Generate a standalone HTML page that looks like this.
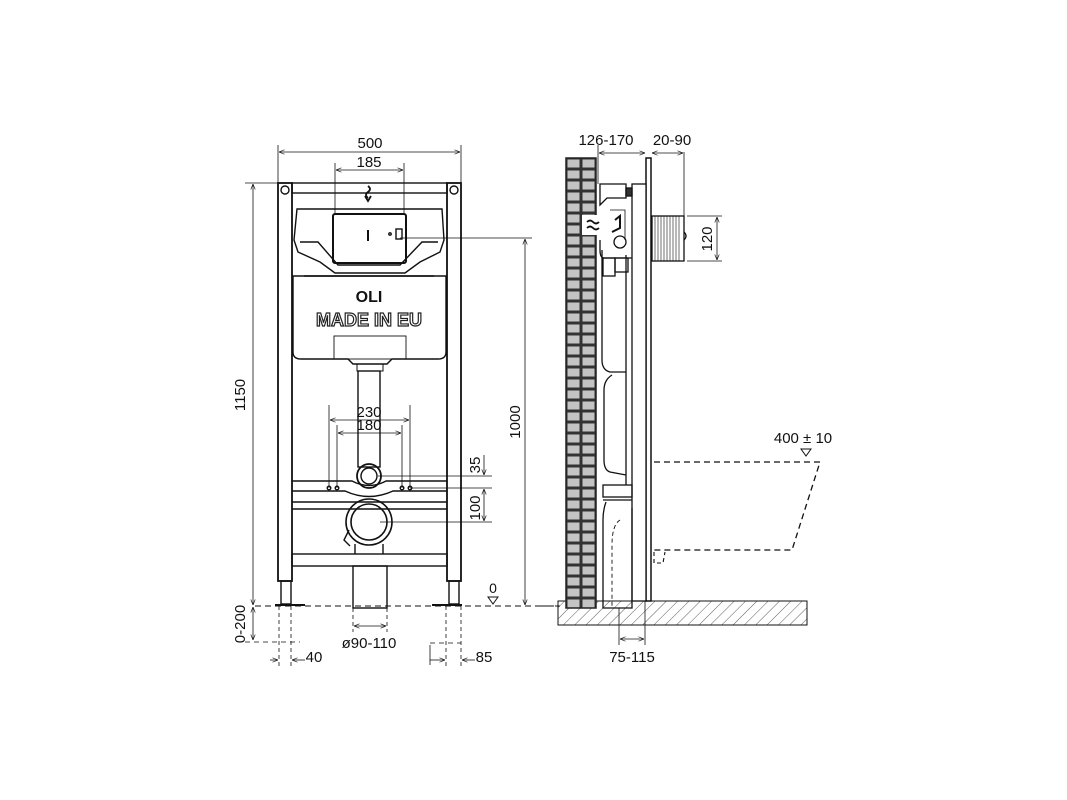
<!DOCTYPE html>
<html><head><meta charset="utf-8"><style>
html,body{margin:0;padding:0;background:#fff;}
svg{display:block;}
text{font-family:"Liberation Sans",sans-serif;fill:#111;}
</style></head><body>
<svg width="1067" height="800" viewBox="0 0 1067 800" xmlns="http://www.w3.org/2000/svg">
<defs>
<marker id="a" viewBox="0 0 10 10" refX="10" refY="5" markerWidth="7" markerHeight="7" orient="auto-start-reverse"><path d="M0,1 L10,5 L0,9" fill="none" stroke="#111" stroke-width="1.2"/></marker>
<pattern id="brick" x="566" y="158" width="15" height="11" patternUnits="userSpaceOnUse"><rect width="15" height="11" fill="#333"/><rect x="1.5" y="1.5" width="12" height="8" fill="#c4c4c4"/></pattern>
<pattern id="hatch" width="8" height="8" patternUnits="userSpaceOnUse" patternTransform="rotate(45)"><line x1="0" y1="0" x2="0" y2="8" stroke="#333" stroke-width="0.8"/></pattern>
</defs>
<g fill="none" stroke="#111" stroke-width="1.4">
<line x1="278" y1="145" x2="278" y2="183" stroke-width="0.8"/><line x1="461" y1="145" x2="461" y2="183" stroke-width="0.8"/>
<line x1="279" y1="152" x2="460" y2="152" stroke-width="0.8" marker-start="url(#a)" marker-end="url(#a)"/>
<line x1="335" y1="163" x2="335" y2="215" stroke-width="0.8"/><line x1="404" y1="163" x2="404" y2="215" stroke-width="0.8"/>
<line x1="336" y1="170" x2="403" y2="170" stroke-width="0.8" marker-start="url(#a)" marker-end="url(#a)"/>
<line x1="245" y1="183" x2="278" y2="183" stroke-width="0.8"/>
<rect x="278" y="183" width="14" height="398" stroke-width="1.8"/>
<rect x="447" y="183" width="14" height="398" stroke-width="1.8"/>
<rect x="281" y="581" width="10" height="23"/>
<rect x="449" y="581" width="10" height="23"/>
<line x1="275" y1="605" x2="305" y2="605" stroke-width="2"/><line x1="432" y1="605" x2="462" y2="605" stroke-width="2"/>
<rect x="292" y="183" width="155" height="10"/>
<circle cx="285" cy="190" r="4"/><circle cx="454" cy="190" r="4"/>
<path d="M368,186 q4,3 0,6 q-4,3 0,6 M365,196 l3,5 l3,-5" stroke-width="1.8"/>
<path d="M297,209 L442,209 L444,240 L440,252 L420,262 L405,273 L335,273 L320,262 L298,252 L294,240 Z"/>
<path d="M300,242 L318,242 L338,265 L400,265 L422,242 L438,242"/>
<rect x="333" y="214" width="73" height="49" rx="2" stroke-width="2"/>
<line x1="368" y1="230" x2="368" y2="241" stroke-width="2"/>
<circle cx="390" cy="234" r="1.2"/><rect x="396" y="229" width="6" height="10"/>
<path d="M293,276 L446,276 L446,352 Q446,359 438,359 L392,359 L387,364 L353,364 L348,359 L301,359 Q293,359 293,352 Z"/>
<line x1="304" y1="276" x2="434" y2="276"/>
<rect x="334" y="336" width="72" height="23" stroke-width="0.9"/>
<rect x="357" y="364" width="26" height="7" stroke-width="1"/>
<rect x="358" y="371" width="22" height="96"/>
<line x1="329" y1="405" x2="329" y2="488" stroke-width="0.8"/><line x1="410" y1="405" x2="410" y2="488" stroke-width="0.8"/>
<line x1="337" y1="425" x2="337" y2="488" stroke-width="0.8"/><line x1="402" y1="425" x2="402" y2="488" stroke-width="0.8"/>
<line x1="330" y1="420" x2="409" y2="420" stroke-width="0.8" marker-start="url(#a)" marker-end="url(#a)"/>
<line x1="338" y1="433" x2="401" y2="433" stroke-width="0.8" marker-start="url(#a)" marker-end="url(#a)"/>
<path d="M292,481 L352,481 Q369,490 386,481 L447,481"/>
<path d="M292,491 L345,491 Q369,502 393,491 L447,491"/>
<line x1="292" y1="502" x2="447" y2="502"/><line x1="292" y1="509" x2="447" y2="509"/>
<circle cx="329" cy="488" r="1.8"/><circle cx="337" cy="488" r="1.8"/><circle cx="402" cy="488" r="1.8"/><circle cx="410" cy="488" r="1.8"/>
<circle cx="369" cy="476" r="12" stroke-width="1.8"/><circle cx="369" cy="476" r="8"/>
<circle cx="369" cy="522" r="23" stroke-width="1.6"/><circle cx="369" cy="522" r="18" stroke-width="1.6"/>
<path d="M349,530 L344,540 L350,546" stroke-width="1.4"/>
<path d="M355,544 L355,554 M383,544 L383,554"/>
<rect x="292" y="554" width="155" height="12"/>
<rect x="353" y="566" width="34" height="42"/>
<line x1="255" y1="606" x2="560" y2="606" stroke-dasharray="6,4" stroke-width="0.9"/>
<line x1="253" y1="184" x2="253" y2="605" stroke-width="0.8" marker-start="url(#a)" marker-end="url(#a)"/>
<line x1="400" y1="238" x2="532" y2="238" stroke-width="0.8"/>
<line x1="525" y1="239" x2="525" y2="605" stroke-width="0.8" marker-start="url(#a)" marker-end="url(#a)"/>
<line x1="378" y1="476" x2="492" y2="476" stroke-width="0.8"/>
<line x1="410" y1="488" x2="492" y2="488" stroke-width="0.8"/>
<line x1="380" y1="522" x2="492" y2="522" stroke-width="0.8"/>
<line x1="484" y1="455" x2="484" y2="475" stroke-width="0.8" marker-end="url(#a)"/>
<line x1="484" y1="489" x2="484" y2="521" stroke-width="0.8" marker-start="url(#a)" marker-end="url(#a)"/>
<path d="M488,597 L498,597 L493,604 Z" stroke-width="1"/>
<line x1="253" y1="607" x2="253" y2="640" stroke-width="0.8" marker-start="url(#a)" marker-end="url(#a)"/>
<line x1="245" y1="642" x2="300" y2="642" stroke-width="0.8" stroke-dasharray="5,4"/>
<line x1="279" y1="606" x2="279" y2="668" stroke-width="0.8" stroke-dasharray="4,3"/>
<line x1="291" y1="606" x2="291" y2="668" stroke-width="0.8" stroke-dasharray="4,3"/>
<line x1="270" y1="660" x2="278" y2="660" stroke-width="0.8" marker-end="url(#a)"/>
<line x1="305" y1="660" x2="292" y2="660" stroke-width="0.8" marker-end="url(#a)"/>
<line x1="353" y1="608" x2="353" y2="632" stroke-width="0.8" stroke-dasharray="4,3"/>
<line x1="387" y1="608" x2="387" y2="632" stroke-width="0.8" stroke-dasharray="4,3"/>
<line x1="354" y1="626" x2="386" y2="626" stroke-width="0.8" marker-start="url(#a)" marker-end="url(#a)"/>
<line x1="446" y1="606" x2="446" y2="668" stroke-width="0.8" stroke-dasharray="4,3"/>
<line x1="461" y1="606" x2="461" y2="668" stroke-width="0.8" stroke-dasharray="4,3"/>
<line x1="430" y1="643" x2="461" y2="643" stroke-width="0.8" stroke-dasharray="5,4"/>
<line x1="430" y1="660" x2="445" y2="660" stroke-width="0.8" marker-end="url(#a)"/>
<line x1="475" y1="660" x2="462" y2="660" stroke-width="0.8" marker-end="url(#a)"/>
<line x1="430" y1="645" x2="430" y2="665" stroke-width="0.8"/>
</g>
<text x="370" y="148" font-size="15" text-anchor="middle">500</text>
<text x="369" y="167" font-size="15" text-anchor="middle">185</text>
<text x="369" y="417" font-size="15" text-anchor="middle">230</text>
<text x="369" y="430" font-size="15" text-anchor="middle">180</text>
<text x="369" y="302" font-size="16" font-weight="bold" text-anchor="middle">OLI</text>
<text x="369" y="326" font-size="18" font-weight="bold" text-anchor="middle" style="fill:#fff;stroke:#222;stroke-width:1.2">MADE IN EU</text>
<text transform="translate(245,395) rotate(-90)" font-size="15" text-anchor="middle">1150</text>
<text transform="translate(520,422) rotate(-90)" font-size="15" text-anchor="middle">1000</text>
<text transform="translate(480,465) rotate(-90)" font-size="15" text-anchor="middle">35</text>
<text transform="translate(480,508) rotate(-90)" font-size="15" text-anchor="middle">100</text>
<text transform="translate(245,624) rotate(-90)" font-size="15" text-anchor="middle">0-200</text>
<text x="493" y="593" font-size="14" text-anchor="middle">0</text>
<text x="369" y="648" font-size="15" text-anchor="middle">ø90-110</text>
<text x="314" y="662" font-size="15" text-anchor="middle">40</text>
<text x="484" y="662" font-size="15" text-anchor="middle">85</text>

<rect x="558" y="601" width="249" height="24" fill="url(#hatch)" stroke="#111" stroke-width="1"/>
<rect x="566" y="158" width="30" height="450" fill="url(#brick)" stroke="#222" stroke-width="1.5"/>
<g fill="none" stroke="#111" stroke-width="1.3">
<line x1="540" y1="606" x2="558" y2="606" stroke-dasharray="5,4" stroke-width="0.9"/>
<rect x="646" y="158" width="5" height="443" fill="#fff" stroke-width="1.5"/>
<rect x="632" y="184" width="14" height="417" fill="#fff"/>
<path d="M600,184 L626,184 L626,198 L607,198 L600,205 Z" fill="#fff"/>
<rect x="626" y="188" width="6" height="8" fill="#333"/>
<rect x="582" y="215" width="23" height="20" fill="#fff" stroke="none"/>
<path d="M587,222 q3,-3 6,0 q3,3 6,0 M587,228 q3,-3 6,0 q3,3 6,0" stroke-width="1.8"/>
<path d="M615,220 L620,216 L620,228 L612,232" stroke-width="2"/>
<path d="M610,210 L625,210 L625,240" stroke-width="0.8"/>
<circle cx="620" cy="242" r="6"/>
<path d="M600,240 L600,250 Q600,258 604,258 L632,258"/>
<rect x="603" y="258" width="12" height="18"/><rect x="615" y="258" width="13" height="14"/>
<path d="M602,250 L602,360 Q602,370 610,372 L626,372"/>
<path d="M612,375 Q604,380 604,390 L604,460 Q604,470 610,472 L626,475"/>
<line x1="626" y1="255" x2="626" y2="485"/>
<rect x="603" y="485" width="29" height="12"/>
<path d="M603,500 L632,500 M606,502 Q603,510 603,520 L603,608 L632,608 L632,508"/>
<path d="M620,520 Q612,525 612,545 L612,608" stroke-dasharray="4,3" stroke-width="0.9"/>
<rect x="652" y="216" width="32" height="45" fill="#fff"/>
<path d="M655,216 v45 M658,216 v45 M661,216 v45 M664,216 v45 M667,216 v45 M670,216 v45 M673,216 v45 M676,216 v45 M679,216 v45" stroke-width="0.6"/>
<path d="M684,232 q4,4 0,8" />
<line x1="687" y1="216" x2="722" y2="216" stroke-width="0.8"/><line x1="687" y1="261" x2="722" y2="261" stroke-width="0.8"/>
<line x1="717" y1="217" x2="717" y2="260" stroke-width="0.8" marker-start="url(#a)" marker-end="url(#a)"/>
<line x1="598" y1="145" x2="598" y2="184" stroke-width="0.8"/><line x1="684" y1="152" x2="684" y2="216" stroke-width="0.8"/>
<line x1="599" y1="153" x2="645" y2="153" stroke-width="0.8" marker-start="url(#a)" marker-end="url(#a)"/>
<line x1="652" y1="153" x2="683" y2="153" stroke-width="0.8" marker-start="url(#a)" marker-end="url(#a)"/>
<path d="M654,462 L820,462 L792,550 L654,550" stroke-dasharray="6,4" stroke-width="1.3"/>
<path d="M654,552 L654,563 L663,563 L665,552" stroke-dasharray="4,3" stroke-width="1.1"/>
<path d="M801,449 L811,449 L806,456 Z" stroke-width="1"/>
<line x1="619" y1="608" x2="619" y2="645" stroke-width="0.8"/><line x1="645" y1="601" x2="645" y2="645" stroke-width="0.8"/>
<line x1="620" y1="639" x2="644" y2="639" stroke-width="0.8" marker-start="url(#a)" marker-end="url(#a)"/>
</g>
<text x="606" y="145" font-size="15" text-anchor="middle">126-170</text>
<text x="672" y="145" font-size="15" text-anchor="middle">20-90</text>
<text transform="translate(712,239) rotate(-90)" font-size="15" text-anchor="middle">120</text>
<text x="803" y="443" font-size="15" text-anchor="middle">400 ± 10</text>
<text x="632" y="662" font-size="15" text-anchor="middle">75-115</text>
</svg>
</body></html>
